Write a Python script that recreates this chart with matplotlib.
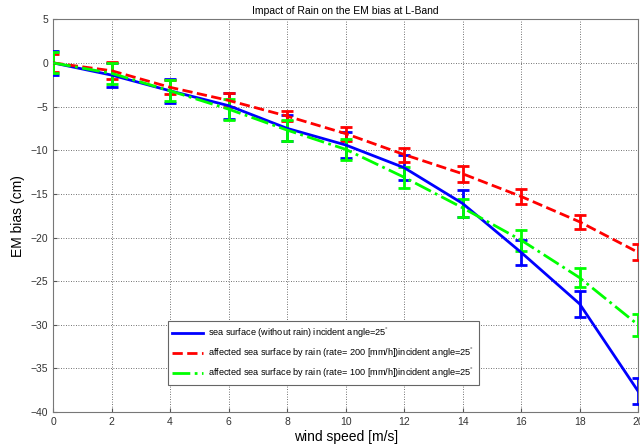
import numpy as np
import matplotlib
matplotlib.use("Agg")
import matplotlib.pyplot as plt
from matplotlib.lines import Line2D

# wind speed samples (m/s)
wind_speed = [0, 2, 4, 6, 8, 10, 12, 14, 16, 18, 20]

# EM bias (cm), with half-width of the error bars
bias_no_rain = [0, -1.4, -3.2, -4.9, -7.5, -9.4, -12.0, -16.1, -21.7, -27.6, -37.6]
err_no_rain = [1.4, 1.4, 1.4, 1.5, 1.5, 1.5, 1.4, 1.5, 1.4, 1.5, 1.5]

bias_rain200 = [0, -0.9, -2.8, -4.3, -6.1, -8.1, -10.5, -12.7, -15.3, -18.2, -21.7]
err_rain200 = [1.0, 1.0, 0.8, 0.8, 0.6, 0.8, 0.8, 0.9, 0.9, 0.8, 0.9]

bias_rain100 = [0, -1.2, -3.2, -5.3, -7.7, -9.9, -13.1, -16.6, -20.3, -24.6, -30.0]
err_rain100 = [1.2, 1.2, 1.2, 1.2, 1.2, 1.2, 1.2, 1.0, 1.2, 1.1, 1.25]

labels = [
    'sea surface (without rain) incident angle=25$^{\\degree}$',
    'affected sea surface by rain (rate= 200 [mm/h])incident angle=25$^{\\degree}$',
    'affected sea surface by rain (rate= 100 [mm/h])incident angle=25$^{\\degree}$',
]
colors = ['#0000ff', '#ff0000', '#00ff00']
styles = ['-', '--', '-.']

plt.rcParams['font.family'] = ['Liberation Sans Narrow', 'Liberation Sans', 'DejaVu Sans']
plt.rcParams['mathtext.fontset'] = 'custom'
plt.rcParams['mathtext.rm'] = 'Liberation Sans'

fig = plt.figure(figsize=(6.4, 4.47), dpi=100)
ax = fig.add_axes([0.083, 0.078, 0.914, 0.879])

series = [(bias_no_rain, err_no_rain), (bias_rain200, err_rain200), (bias_rain100, err_rain100)]
for (vals, errs), c, ls in zip(series, colors, styles):
    ax.errorbar(wind_speed, vals, yerr=errs, color=c, linestyle=ls,
                linewidth=2, elinewidth=2, capsize=4.5, capthick=2, zorder=3)

ax.set_xlim(0, 20)
ax.set_ylim(-40, 5)
ax.set_xticks(np.arange(0, 21, 2))
ax.set_yticks(np.arange(-40, 6, 5))
ax.grid(True, color='#444444', linestyle=(0, (1, 2)), linewidth=0.6)
ax.tick_params(direction='in', length=3, labelsize=7.5, colors='#555555', labelcolor='#333333')
for sp in ax.spines.values():
    sp.set_color('#777777')

ax.set_title('Impact of Rain on the EM bias at L-Band', fontsize=7.5, pad=4)
ax.set_xlabel('wind speed [m/s]', fontsize=10, labelpad=2)
ax.set_ylabel('EM bias (cm)', fontsize=10, labelpad=4)

handles = [Line2D([], [], color=c, linestyle=ls, linewidth=2) for c, ls in zip(colors, styles)]
leg = ax.legend(handles, labels, loc='lower left', bbox_to_anchor=(0.188, 0.058), fontsize=6.6,
                fancybox=False, framealpha=1, edgecolor='#666666', handlelength=3.3,
                borderpad=0.5, labelspacing=0.6, handletextpad=0.6)
leg.get_frame().set_linewidth(0.8)

fig.savefig('out.png', dpi=100)
